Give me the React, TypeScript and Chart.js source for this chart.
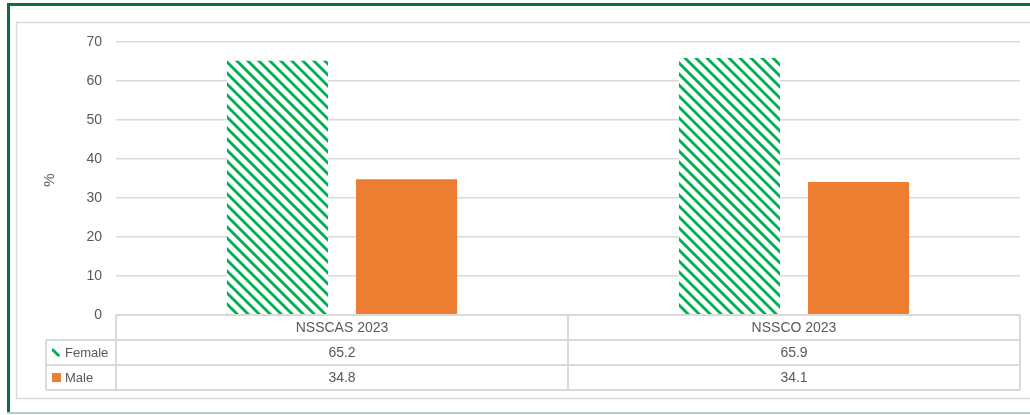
import React, { useEffect, useRef } from "react";
import { Chart, registerables } from "chart.js";

Chart.register(...registerables);

const categories = ["NSSCAS 2023", "NSSCO 2023"];
const femaleValues = [65.2, 65.9];
const maleValues = [34.8, 34.1];
const seriesNames = ["Female", "Male"];
const yTicks = [0, 10, 20, 30, 40, 50, 60, 70];
const yTitle = "%";

const GREEN = "#00B050";
const ORANGE = "#ED7D31";
const TEXT = "#595959";
const GRID = "#d9d9d9";
const FONT = "'Liberation Sans', Arial, sans-serif";

function makeHatch(): CanvasPattern | string {
  const p = 11;
  const c = document.createElement("canvas");
  c.width = p;
  c.height = p;
  const ctx = c.getContext("2d");
  if (!ctx) return GREEN;
  ctx.fillStyle = "#ffffff";
  ctx.fillRect(0, 0, p, p);
  ctx.strokeStyle = GREEN;
  ctx.lineWidth = 2.8;
  for (const k of [-p, 0, p]) {
    ctx.beginPath();
    ctx.moveTo(k - 1, -1);
    ctx.lineTo(k + p + 1, p + 1);
    ctx.stroke();
  }
  const pat = ctx.createPattern(c, "repeat");
  return pat || GREEN;
}

export default function App() {
  const ref = useRef<HTMLCanvasElement | null>(null);

  useEffect(() => {
    if (!ref.current) return;
    const hatch = makeHatch();

    const framePlugin = {
      id: "frame",
      beforeDraw(chart: any) {
        const ctx = chart.ctx;
        ctx.save();
        ctx.fillStyle = "#ffffff";
        ctx.fillRect(0, 0, chart.width, chart.height);
        // outer dark green frame
        ctx.fillStyle = "#0F6B3C";
        ctx.fillRect(7, 3, 1030, 3);
        ctx.fillRect(7, 3, 3, 410);
        ctx.fillStyle = "#A9D6C2";
        ctx.fillRect(7, 412, 1030, 2);
        // inner gray border
        ctx.strokeStyle = GRID;
        ctx.lineWidth = 1.5;
        ctx.strokeRect(16.5, 22.5, 1030, 376);
        ctx.restore();
      },
      afterDraw(chart: any) {
        const ctx = chart.ctx;
        const x = chart.scales.x;
        const y = chart.scales.y;
        const left = x.left;
        const right = x.right;
        const top = y.bottom;
        const rowH = 25;
        const legL = 46;
        ctx.save();
        ctx.strokeStyle = GRID;
        ctx.lineWidth = 2;
        ctx.beginPath();
        ctx.moveTo(left, top);
        ctx.lineTo(right, top);
        ctx.moveTo(legL, top + rowH);
        ctx.lineTo(right, top + rowH);
        ctx.moveTo(legL, top + 2 * rowH);
        ctx.lineTo(right, top + 2 * rowH);
        ctx.moveTo(legL, top + 3 * rowH);
        ctx.lineTo(right, top + 3 * rowH);
        ctx.moveTo(legL, top + rowH);
        ctx.lineTo(legL, top + 3 * rowH);
        ctx.moveTo(left, top);
        ctx.lineTo(left, top + 3 * rowH);
        const n = categories.length;
        const cw = (right - left) / n;
        for (let i = 1; i <= n; i++) {
          const xx = left + cw * i;
          ctx.moveTo(xx, top);
          ctx.lineTo(xx, top + 3 * rowH);
        }
        ctx.stroke();

        ctx.fillStyle = TEXT;
        ctx.font = `14px ${FONT}`;
        ctx.textAlign = "center";
        ctx.textBaseline = "middle";
        const rows = [femaleValues, maleValues];
        categories.forEach((c, i) => {
          const cx = left + cw * (i + 0.5);
          ctx.fillText(c, cx, top + rowH / 2 + 1);
          rows.forEach((r, j) => {
            ctx.fillText(r[i].toFixed(1), cx, top + rowH * (j + 1.5) + 1);
          });
        });
        // legend keys
        ctx.textAlign = "left";
        ctx.font = `13px ${FONT}`;
        seriesNames.forEach((s, j) => {
          const cy = top + rowH * (j + 1.5);
          if (j === 0) {
            ctx.fillStyle = hatch as any;
            ctx.fillRect(52, cy - 4, 8, 8);
          } else {
            ctx.fillStyle = ORANGE;
            ctx.fillRect(52, cy - 4.5, 9, 9);
          }
          ctx.fillStyle = TEXT;
          ctx.fillText(s, 65, cy + 1);
        });
        // y title
        ctx.save();
        ctx.translate(50, 180);
        ctx.rotate(-Math.PI / 2);
        ctx.textAlign = "center";
        ctx.font = `15px ${FONT}`;
        ctx.fillText(yTitle, 0, 0);
        ctx.restore();
        ctx.restore();
      },
    };

    const chart = new Chart(ref.current, {
      type: "bar",
      data: {
        labels: categories,
        datasets: [
          {
            label: seriesNames[0],
            data: femaleValues,
            backgroundColor: hatch as any,
            categoryPercentage: 0.571,
            barPercentage: 0.783,
          },
          {
            label: seriesNames[1],
            data: maleValues,
            backgroundColor: ORANGE,
            categoryPercentage: 0.571,
            barPercentage: 0.783,
          },
        ],
      },
      options: {
        animation: false,
        responsive: false,
        maintainAspectRatio: false,
        layout: { padding: { left: 0, right: 10, top: 42, bottom: 100 } },
        plugins: {
          legend: { display: false },
          tooltip: { enabled: false },
        },
        scales: {
          x: {
            display: false,
          },
          y: {
            min: 0,
            max: 70,
            afterFit(scale: any) {
              scale.width = 116;
            },
            afterBuildTicks(scale: any) {
              scale.ticks = yTicks.map((v) => ({ value: v }));
            },
            border: { display: false },
            grid: {
              color: (c: any) => (c.tick && c.tick.value === 0 ? "rgba(0,0,0,0)" : GRID),
              lineWidth: 1.5,
              drawTicks: false,
            },
            ticks: {
              color: TEXT,
              font: { family: FONT, size: 14 },
              padding: 14,
            },
          },
        },
      },
      plugins: [framePlugin],
    });
    return () => chart.destroy();
  }, []);

  return (
    <div style={{ position: "absolute", left: 0, top: 0, width: 1030, height: 415, background: "#fff" }}>
      <canvas ref={ref} width={1030} height={415} style={{ display: "block" }} />
    </div>
  );
}
